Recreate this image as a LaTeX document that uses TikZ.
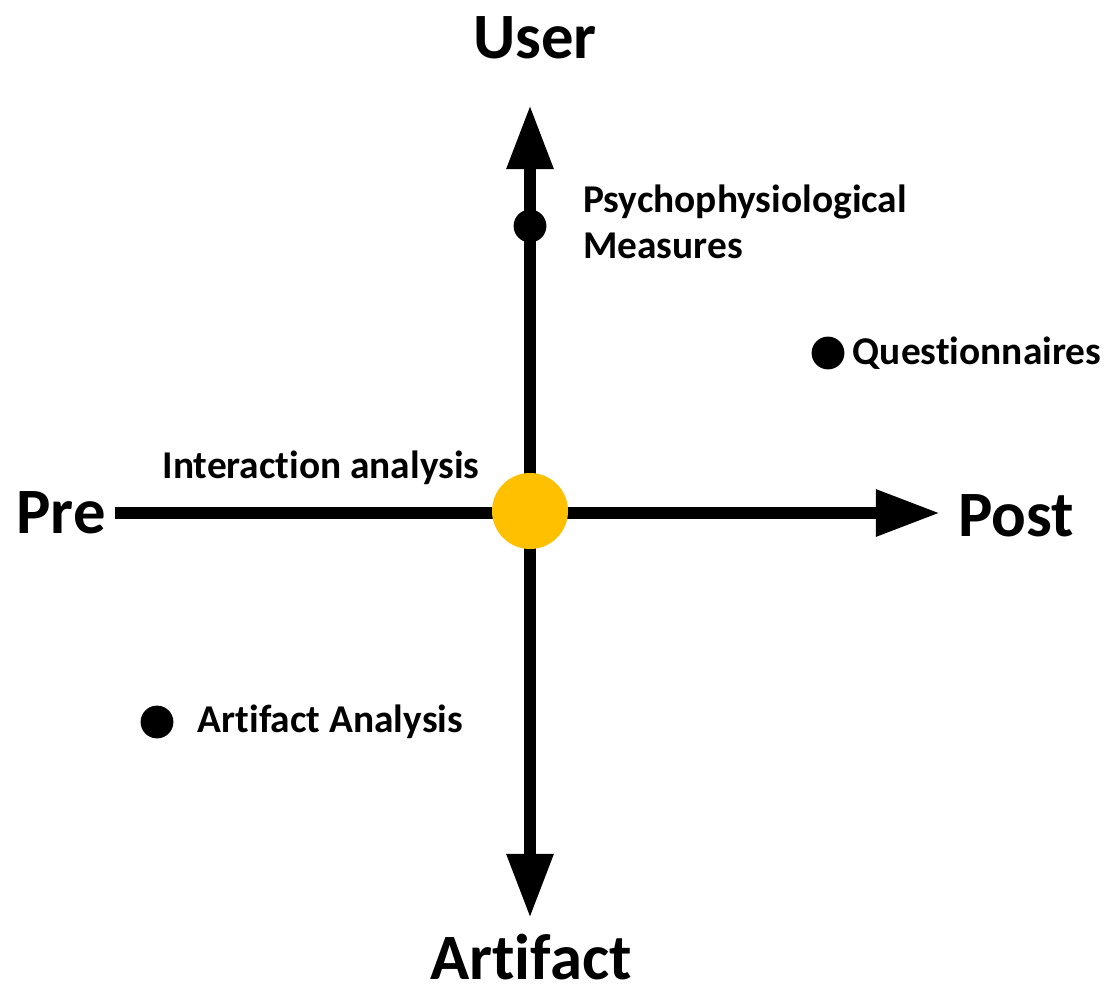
\documentclass[tikz,border=0pt]{standalone}
\usepackage{fontspec}
\setmainfont[Ligatures=NoCommon]{Carlito}
\usetikzlibrary{arrows.meta, positioning}
\definecolor{hubgold}{HTML}{FFC000}

\begin{document}
\begin{tikzpicture}[x=0.025cm,y=-0.025cm,line cap=butt,
  axis/.style={line width=8.5pt,-{Triangle[length=1.6cm,width=1.1cm]}},
  dot/.style={circle,fill=black,inner sep=0pt,minimum size=0.82cm},
  bigLabel/.style={font=\fontsize{46}{50}\selectfont\bfseries,inner sep=0pt},
  smallLabel/.style={font=\fontsize{28}{33}\selectfont\bfseries,inner sep=0pt,align=left}]
  \useasboundingbox (0,0) rectangle (1109,990);

  % --- Estremi degli assi ---
  \node[bigLabel] (user) at (535,38) {User};
  \node[bigLabel] (artifact) at (531,957) {Artifact};
  \node[bigLabel] (pre) at (61,513) {Pre};
  \node[bigLabel] (post) at (1016,516) {Post};
  \coordinate (preEnd) at (115,513);
  \coordinate (postTip) at (940,513);
  \coordinate (userTip) at (530,105);
  \coordinate (artTip) at (530,918);
  \coordinate (origin) at (530,513);

  % --- Assi ---
  \draw[axis] (preEnd) -- (postTip);
  \draw[axis] (origin) -- (userTip);
  \draw[axis] (origin) -- (artTip);
  \node[circle,fill=hubgold,inner sep=0pt,minimum size=1.9cm] (hub) at (530,511) {};

  % --- Metodi ---
  \node[dot] (psych) at (530,226) {};
  \node[smallLabel,anchor=west] (psychText) at (583,222) {Psychophysiological\\Measures};
  \node[dot] (quest) at (828,353) {};
  \node[smallLabel,right=0.2cm of quest] (questText) {Questionnaires};
  \node[dot] (artAn) at (157,722) {};
  \node[smallLabel,right=0.6cm of artAn] (artAnText) {Artifact Analysis};
  \node[smallLabel] (interText) at (321,468) {Interaction analysis};
\end{tikzpicture}
\end{document}
